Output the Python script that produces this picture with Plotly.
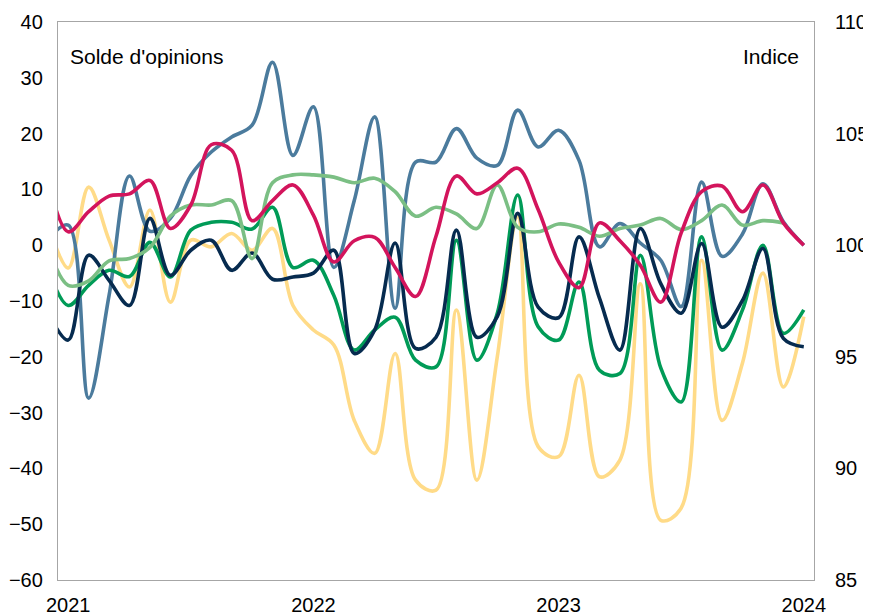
import plotly.graph_objects as go

# Monthly categories: Dec 2020 (partly outside the frame) to Jan 2024
months = [f"{y}-{m:02d}" for y in range(2020, 2025) for m in range(1, 13)][11:49]

tick_vals = ["2021-01", "2022-01", "2023-01", "2024-01"]
tick_text = ["2021", "2022", "2023", "2024"]

# Left axis series (solde d'opinions)
navy = [-12, -17, -1.8, -6.3, -10.8, 4.8, -5.4, -0.9, 0.9, -4.5, -1.4, -6.1, -5.7,
        -5, -0.9, -19.4, -15.2, 0.4, -18.5, -16.5, 2.7, -16.5, -12.8, 5.7, -11.1,
        -13, 1.5, -9.5, -18.8, 3, -6.9, -12.2, 0.3, -14.7, -9.9, -0.6, -16.7, -18.2]
steel = [1, 3.6, -27.4, -9, 12.4, 2.5, 4.8, 12.5, 16.7, 19.4, 21.5, 32.8, 16.1,
         24.8, -4, 8, 23, -11.3, 14.9, 14.9, 20.9, 15.6, 14.3, 24.2, 17.6,
         20.6, 15.2, -0.3, 3.9, 0.4, -2.7, -11, 11.3, -2, 2, 11, 4.2, 0]
green = [-4, -10.8, -7.2, -4.5, -5.6, 0.5, -5.7, 2.7, 4.1, 4.1, 2.9, 6.8, -4,
         -2.7, -9, -18.8, -15.2, -12.9, -20.6, -21.8, 0.9, -20.6, -12.2, 9, -14.6,
         -17, -6.6, -22.4, -23, -1.8, -22, -28.1, 1.5, -18.8, -11.6, 0, -15.8, -11.6]
yellow = [4, -4.1, 10.4, 0.9, -7.5, 6.3, -10.2, 0.9, -0.3, 2.1, -0.9, 3, -10.8,
          -15.2, -17.9, -31.4, -37.3, -19.4, -42.1, -43.9, -11.6, -42.1, -20, 5.1, -36.1,
          -37.9, -23.3, -41.5, -38.5, -6.9, -49.3, -47.1, -2.7, -31.4, -21.1, -5, -25.4, -12.8]

# Right axis series (indice)
pink = [103.0, 100.6, 101.5, 102.2, 102.3, 102.9, 100.75, 101.8, 104.5, 104.25, 101.1, 102.0, 102.7,
        101.35, 99.25, 100.2, 100.35, 99.0, 97.7, 100.4, 103.1, 102.3, 102.8, 103.45, 101.6,
        99.25, 98.1, 101.0, 100.2, 99.1, 97.45, 100.55, 102.4, 102.65, 101.5, 102.7, 101.0, 100.0]
light_green = [100.0, 98.2, 98.4, 99.3, 99.4, 99.9, 101.3, 101.8, 101.8, 102.0, 99.4, 102.8, 103.15,
               103.15, 103.05, 102.8, 103.0, 102.4, 101.3, 101.7, 101.4, 100.75, 102.7, 100.8, 100.6,
               100.95, 100.8, 100.4, 100.75, 100.9, 101.2, 100.7, 101.1, 101.8, 100.9, 101.1, 101.0]

fig = go.Figure()

def add(vals, color, axis):
    fig.add_trace(go.Scatter(
        x=months[:len(vals)], y=vals, mode="lines", yaxis=axis,
        line=dict(color=color, width=3.6, shape="spline", smoothing=1.0),
        showlegend=False, hoverinfo="skip"))

add(yellow, "#FFDB88", "y")
add(light_green, "#7BBF84", "y2")
add(steel, "#4B7B9D", "y")
add(green, "#009B57", "y")
add(navy, "#062B4F", "y")
add(pink, "#D3145C", "y2")

axis_font = dict(family="Liberation Sans, Arial, sans-serif", size=20, color="#000000")
text_font = dict(family="Liberation Sans, Arial, sans-serif", size=21, color="#000000")

# page body adds an 8px offset: figure is 863x608 so that the frame lands where the reference has it
fig.update_layout(
    width=863, height=608,
    margin=dict(l=50, r=57, t=14, b=36, autoexpand=False),
    paper_bgcolor="white", plot_bgcolor="white",
    font=axis_font,
    xaxis=dict(type="category", categoryorder="array", categoryarray=months,
               range=[0.5, 37.5], tickmode="array", tickvals=tick_vals, ticktext=tick_text,
               showgrid=False, zeroline=False, showline=True, mirror=True,
               linecolor="#A6A6A6", linewidth=1.3, ticks="", tickfont=axis_font,
               ticklabelstandoff=7, automargin=False),
    yaxis=dict(range=[-60, 40], dtick=10, showgrid=False, zeroline=False,
               showline=True, mirror=True, linecolor="#A6A6A6", linewidth=1.3,
               ticks="", tickfont=axis_font, ticklabelstandoff=10, automargin=False),
    yaxis2=dict(range=[85, 110], dtick=5, overlaying="y", side="right",
                showgrid=False, zeroline=False, showline=False, ticks="",
                tickfont=axis_font, ticklabelstandoff=20, automargin=False),
    annotations=[
        dict(text="Solde d'opinions", xref="paper", yref="paper", x=0.0128, y=0.938,
             xanchor="left", yanchor="middle", showarrow=False, font=text_font),
        dict(text="Indice", xref="paper", yref="paper", x=0.983, y=0.938,
             xanchor="right", yanchor="middle", showarrow=False, font=text_font),
    ],
)

fig.write_html("out.html")
